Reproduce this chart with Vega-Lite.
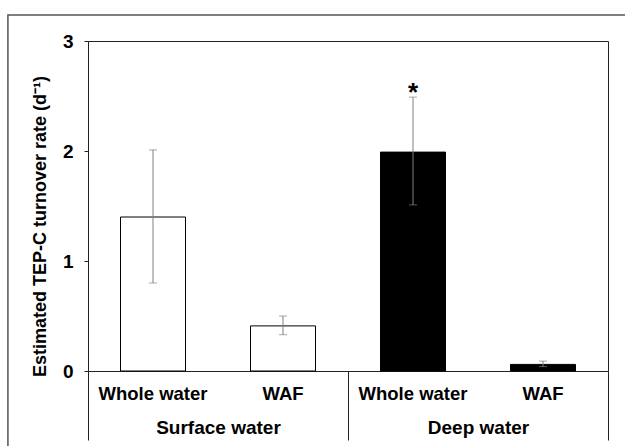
{
  "$schema": "https://vega.github.io/schema/vega-lite/v6.json",
  "width": 520,
  "height": 330,
  "autosize": {"type": "none"},
  "padding": {"left": 88, "top": 41, "right": 17, "bottom": 75},
  "config": {
    "font": "Liberation Sans",
    "view": {"stroke": "#222", "strokeWidth": 1}
  },
  "datasets": {
    "rates": [
      {"site": "Surface water", "treatment": "Whole water", "rate": 1.40, "lower": 0.80, "upper": 2.01, "sig": ""},
      {"site": "Surface water", "treatment": "WAF", "rate": 0.41, "lower": 0.33, "upper": 0.50, "sig": ""},
      {"site": "Deep water", "treatment": "Whole water", "rate": 1.99, "lower": 1.51, "upper": 2.49, "sig": "*"},
      {"site": "Deep water", "treatment": "WAF", "rate": 0.06, "lower": 0.04, "upper": 0.09, "sig": ""}
    ]
  },
  "layer": [
    {
      "data": {"values": [{}]},
      "mark": {"type": "rect", "fill": null, "stroke": "#555", "strokeWidth": 1.5},
      "encoding": {
        "x": {"datum": -0.154, "type": "quantitative", "scale": {"domain": [0, 1], "nice": false, "zero": false}, "axis": null},
        "x2": {"datum": 1.6},
        "y": {"datum": 3.236, "type": "quantitative", "scale": {"domain": [0, 3], "nice": false}, "axis": null},
        "y2": {"datum": -1.5}
      }
    },
    {
      "data": {"name": "rates"},
      "encoding": {
        "x": {
          "field": "site", "type": "nominal", "sort": ["Surface water", "Deep water"],
          "scale": {"paddingInner": 0, "paddingOuter": 0},
          "axis": {
            "orient": "bottom", "title": null, "domain": false,
            "ticks": true, "tickBand": "extent", "tickSize": 69, "tickColor": "#222", "tickWidth": 1,
            "labelFontSize": 19, "labelFontWeight": "bold", "labelColor": "#000",
            "labelPadding": -22, "labelAngle": 0
          }
        },
        "xOffset": {
          "field": "treatment", "type": "nominal", "sort": ["Whole water", "WAF"],
          "scale": {"paddingInner": 0.5, "paddingOuter": 0.25}
        }
      },
      "layer": [
        {
          "mark": {"type": "bar", "stroke": "#000", "strokeWidth": 1},
          "encoding": {
            "y": {
              "field": "rate", "type": "quantitative",
              "scale": {"domain": [0, 3], "nice": false},
              "axis": {
                "title": "Estimated TEP-C turnover rate (d⁻¹)",
                "values": [0, 1, 2, 3], "format": "d", "grid": false,
                "domainColor": "#222", "tickColor": "#222", "tickSize": 4,
                "labelFontSize": 19, "labelFontWeight": "bold", "labelColor": "#000", "labelPadding": 11,
                "titleFontSize": 18, "titleFontWeight": "bold", "titleColor": "#000", "titlePadding": 13,
                "titleY": 185
              }
            },
            "color": {
              "field": "site", "type": "nominal",
              "scale": {"domain": ["Surface water", "Deep water"], "range": ["#ffffff", "#000000"]},
              "legend": null
            }
          }
        },
        {
          "mark": {"type": "rule", "color": "#808080", "strokeWidth": 1},
          "encoding": {
            "y": {"field": "lower", "type": "quantitative"},
            "y2": {"field": "upper"}
          }
        },
        {
          "mark": {"type": "tick", "color": "#808080", "size": 8, "thickness": 1, "orient": "horizontal"},
          "encoding": {"y": {"field": "lower", "type": "quantitative"}}
        },
        {
          "mark": {"type": "tick", "color": "#808080", "size": 8, "thickness": 1, "orient": "horizontal"},
          "encoding": {"y": {"field": "upper", "type": "quantitative"}}
        },
        {
          "mark": {"type": "text", "fontSize": 26, "fontWeight": "bold", "color": "#000", "baseline": "alphabetic", "dy": 4},
          "encoding": {
            "y": {"field": "upper", "type": "quantitative"},
            "text": {"field": "sig"}
          }
        },
        {
          "mark": {"type": "text", "fontSize": 18.5, "fontWeight": "bold", "color": "#000", "baseline": "middle"},
          "encoding": {
            "y": {"datum": -0.21, "type": "quantitative", "scale": {"domain": [0, 3], "nice": false}},
            "text": {"field": "treatment"}
          }
        }
      ]
    }
  ],
  "resolve": {"scale": {"x": "independent", "y": "independent"}, "axis": {"x": "independent", "y": "independent"}}
}
